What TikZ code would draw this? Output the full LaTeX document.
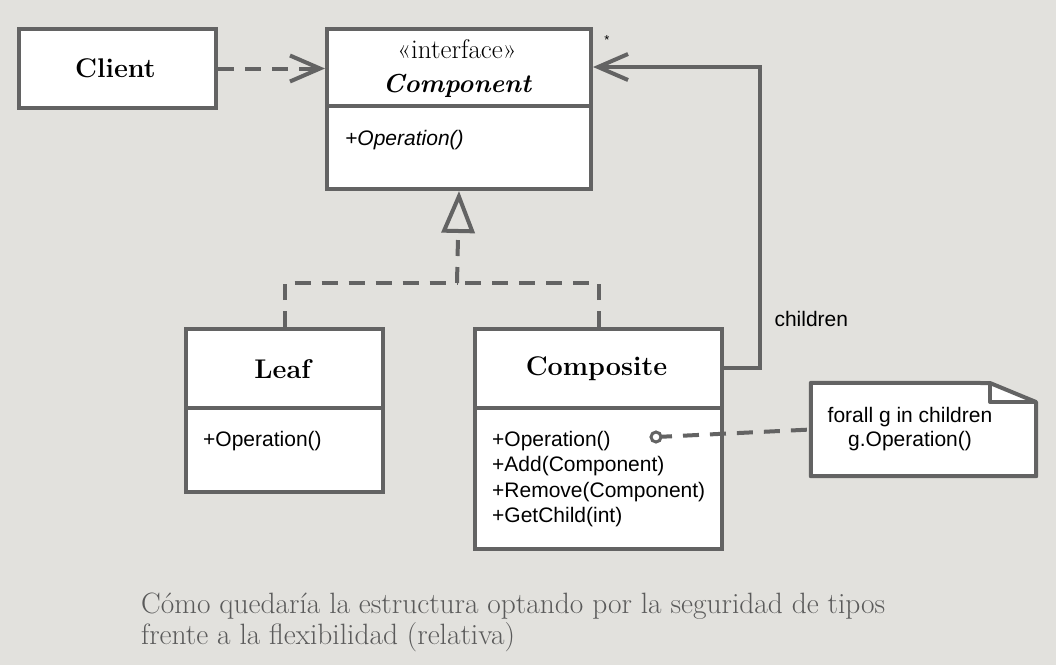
\documentclass[tikz,border=0pt]{standalone}
\usepackage{fontspec}
\newfontfamily\sansf{Liberation Sans}
\usetikzlibrary{arrows.meta,calc}
\definecolor{bgc}{HTML}{E2E1DD}
\definecolor{lnc}{HTML}{636363}
\definecolor{capc}{HTML}{5A5A5A}
\tikzset{
  umlbox/.style={draw=lnc, line width=4pt, fill=white, anchor=north west, inner sep=0pt},
  conn/.style={draw=lnc, line width=4pt},
  dsh/.style={dash pattern=on 16pt off 11pt},
  opentip/.style={-{Straight Barb[length=30pt,width=26pt,line width=4pt]}},
  realtip/.style={-{Triangle[open,length=42pt,width=33pt,line width=4pt,fill=bgc]}},
  title/.style={font=\fontsize{27}{30}\selectfont\bfseries},
  meth/.style={font=\sansf\fontsize{21}{25.5}\selectfont, align=left, anchor=north west, inner sep=0pt},
}
\begin{document}
\begin{tikzpicture}[x=1pt,y=-1pt]
\fill[bgc] (0,0) rectangle (1056,665);
\useasboundingbox (0,0) rectangle (1056,665);

% boxes
\node[umlbox, minimum width=197pt, minimum height=79pt] (client) at (17,27) {};
\node[title] (clientt) at (115.5,68) {Client};

\node[umlbox, minimum width=264pt, minimum height=160pt] (comp) at (325,27) {};
\draw[conn] (325,106) -- (589,106);
\node[font=\fontsize{27}{30}\selectfont, anchor=base] (stereo) at (457,58) {«interface»};
\node[font=\fontsize{26}{30}\selectfont\bfseries\itshape, anchor=base] (compt) at (457,92) {Component};
\node[meth, font=\sansf\itshape\fontsize{21}{25.5}\selectfont] (compop) at (345,130) {+Operation()};

\node[umlbox, minimum width=197pt, minimum height=163pt] (leaf) at (184,327) {};
\draw[conn] (184,408) -- (381,408);
\node[title] (leaft) at (282.5,369) {Leaf};
\node[meth] (leafop) at (203,431) {+Operation()};

\node[umlbox, minimum width=247pt, minimum height=220pt] (compos) at (473,327) {};
\draw[conn] (473,408) -- (720,408);
\node[title] (compost) at (596.5,369) {Composite};
\node[meth] (composop) at (492,431) {+Operation()\\+Add(Component)\\+Remove(Component)\\+GetChild(int)};

% note
\node[minimum width=225pt, minimum height=93pt, inner sep=0pt] (note) at (923.5,429.5) {};
\draw[conn, fill=white, line join=round] (note.north west) -- (990,383) -- (1036,402) -- (note.south east) -- (note.south west) -- cycle;
\draw[conn, line join=round] (990,383) -- (990,402) -- (1036,402);
\node[font=\sansf\fontsize{21}{24}\selectfont, align=center] (notet) at (910,429) {forall g in children\\g.Operation()};

% connectors
\draw[conn, dsh, opentip] (client.east) -- (comp.west |- client.east);
\coordinate (agg1) at (760,368);
\coordinate (agg2) at (760,67);
\draw[conn, opentip] (compos.east |- agg1) -- (agg1) -- (agg2) -- (comp.east |- agg2);
\node[font=\sansf\fontsize{13}{14}\selectfont] (star) at (607,40) {*};
\node[font=\sansf\fontsize{21}{24}\selectfont, anchor=west] (children) at (771,319) {children};

\coordinate (gen) at (457,283);
\draw[conn, dsh] (leaf.north) |- (gen);
\draw[conn, dsh] (compos.north) |- (gen);
\draw[conn, dsh, realtip] (gen) -- (comp.south);

\coordinate (dot) at (656,437);
\draw[conn, dsh] (dot) -- (note.west);
\draw[lnc, line width=3pt, fill=white] (dot) circle (5pt);

% caption
\node[font=\fontsize{29.4}{31}\selectfont, text=capc, align=left, anchor=base west, inner sep=0pt] (cap) at (141,644) {Cómo quedaría la estructura optando por la seguridad de tipos\\frente a la flexibilidad (relativa)};
\end{tikzpicture}
\end{document}
